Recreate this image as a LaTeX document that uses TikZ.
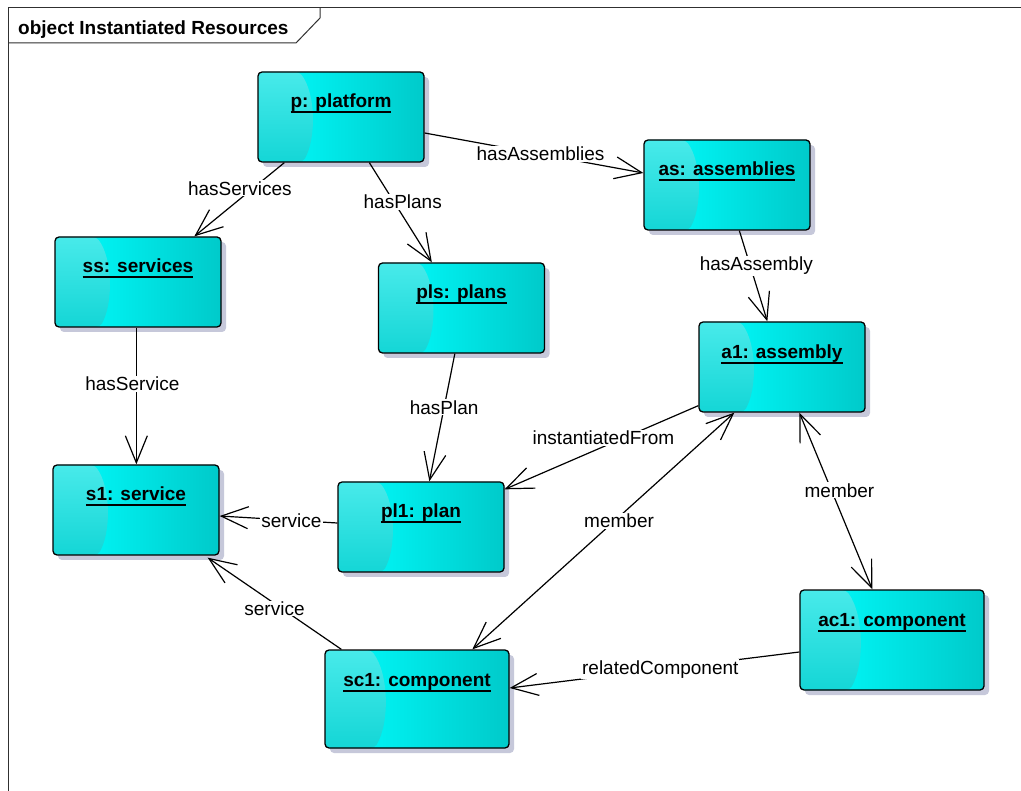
\documentclass[tikz,border=0pt]{standalone}
\usepackage{fontspec}
\setmainfont{Liberation Sans}
\usetikzlibrary{arrows.meta,calc,shadows}
\definecolor{boxdark}{HTML}{00CACA}
\definecolor{boxleftT}{HTML}{48EAEA}
\definecolor{boxleftB}{HTML}{14D6D6}
\definecolor{shadowcol}{HTML}{C6C8DA}
\definecolor{framecol}{HTML}{303030}
\newcommand\objlabel[1]{\setbox0\hbox{\bfseries #1}\rlap{\rule[-5.4pt]{\wd0}{1.4pt}}\box0}
\tikzset{
  obj/.style={draw=black, line width=1.3pt, rounded corners=4pt,
    minimum width=166pt, minimum height=90pt, inner sep=0pt,
    drop shadow={shadow xshift=5pt, shadow yshift=-5pt, fill=shadowcol, opacity=1, draw=none},
    path picture={
      \shade[left color=cyan, middle color=cyan, right color=boxdark]
        let \p1=(path picture bounding box.south west), \p2=(path picture bounding box.north east)
        in (\p1) rectangle (\p2);
      \shade[top color=boxleftT, bottom color=boxleftB]
        let \p1=(path picture bounding box.south west), \p2=(path picture bounding box.north east),
            \n1={\x2-\x1}, \n2={\y2-\y1}
        in (\x1,\y2) -- ({\x1+0.25*\n1},\y2)
           .. controls ({\x1+0.35*\n1},{\y2-0.25*\n2}) and ({\x1+0.35*\n1},{\y1+0.25*\n2}) ..
           ({\x1+0.27*\n1},\y1) -- (\x1,\y1) -- cycle;
    }},
  big/.style={minimum width=184pt, minimum height=100pt},
  objtxt/.style={anchor=base, inner sep=0pt, font=\fontsize{19}{22}\selectfont},
  conn/.style={line width=1.2pt, -{Straight Barb[length=27pt,width=22pt]}},
  both/.style={line width=1.2pt, {Straight Barb[length=27pt,width=22pt]}-{Straight Barb[length=27pt,width=22pt]}},
  lbl/.style={fill=white, inner sep=1pt, font=\fontsize{19}{22}\selectfont}
}
\begin{document}
\begin{tikzpicture}[x=1pt,y=1pt]
\useasboundingbox (0,0) rectangle (1021,-791);
\fill[white] (0,0) rectangle (1021,-791);
% frame
\draw[line width=1pt, framecol] (8,-791) -- (8,-8) -- (1021,-8);
\draw[line width=1pt, framecol] (8,-43) -- (296,-43) -- (320,-18) -- (320,-8);
\node[anchor=base west, inner sep=0pt, font=\fontsize{19}{22}\selectfont\bfseries] (title) at (18,-35) {object Instantiated Resources};
% objects
\node[obj] (p) at (341,-117) {};
\node[obj] (as) at (727,-185) {};
\node[obj] (ss) at (138,-282) {};
\node[obj] (pls) at (461.5,-308) {};
\node[obj] (a1) at (782,-367) {};
\node[obj] (s1) at (136,-510) {};
\node[obj] (pl1) at (421,-527) {};
\node[obj,big] (ac1) at (892,-640) {};
\node[obj,big,minimum height=98pt] (sc1) at (417,-699) {};
\node[objtxt] (tp) at ([yshift=-36pt]p.north) {\objlabel{p: platform}};
\node[objtxt] (tas) at ([yshift=-36pt]as.north) {\objlabel{as: assemblies}};
\node[objtxt] (tss) at ([yshift=-36pt]ss.north) {\objlabel{ss: services}};
\node[objtxt] (tpls) at ([yshift=-36pt]pls.north) {\objlabel{pls: plans}};
\node[objtxt] (ta1) at ([yshift=-37pt]a1.north) {\objlabel{a1: assembly}};
\node[objtxt] (ts1) at ([yshift=-36pt]s1.north) {\objlabel{s1: service}};
\node[objtxt] (tpl1) at ([yshift=-36pt]pl1.north) {\objlabel{pl1: plan}};
\node[objtxt] (tac1) at ([yshift=-37pt]ac1.north) {\objlabel{ac1: component}};
\node[objtxt] (tsc1) at ([yshift=-37pt]sc1.north) {\objlabel{sc1: component}};
% connectors
\draw[conn] ([yshift=-16pt]p.east) -- node[lbl,pos=0.53] (l1) {hasAssemblies} ([yshift=12pt]as.west);
\draw[conn] ([xshift=27pt]p.south west) -- node[lbl,pos=0.35,xshift=-13pt] (l2) {hasServices} ([xshift=140pt]ss.north west);
\draw[conn] ([xshift=112pt]p.south west) -- node[lbl,pos=0.39,xshift=9pt] (l3) {hasPlans} ([xshift=54pt]pls.north west);
\draw[conn] ([xshift=96pt]as.south west) -- node[lbl,pos=0.39,xshift=6pt] (l4) {hasAssembly} ([xshift=69pt]a1.north west);
\draw[conn] ([xshift=82pt]ss.south west) -- node[lbl,pos=0.41,xshift=-4pt] (l5) {hasService} ([xshift=84pt]s1.north west);
\draw[conn] ([xshift=77pt]pls.south west) -- node[lbl,pos=0.42] (l6) {hasPlan} ([xshift=92pt]pl1.north west);
\draw[conn] ([yshift=7pt]a1.south west) -- node[lbl,pos=0.49,yshift=9pt] (l7) {instantiatedFrom} ([yshift=-8pt]pl1.north east);
\draw[conn] ([yshift=4pt]pl1.west) -- node[lbl,pos=0.39] (l8) {service} ([yshift=-6pt]s1.east);
\draw[conn] ([xshift=17pt]sc1.north west) -- node[lbl,pos=0.5,yshift=-5pt] (l9) {service} ([xshift=-12pt,yshift=-2pt]s1.south east);
\draw[both] ([xshift=36pt]a1.south west) -- node[lbl,pos=0.44,yshift=-4pt] (l10) {member} ([xshift=148pt]sc1.north west);
\draw[both] ([xshift=101pt]a1.south west) -- node[lbl,pos=0.44,xshift=8pt] (l11) {member} ([xshift=73pt]ac1.north west);
\draw[conn] ([yshift=-12pt]ac1.west) -- node[lbl,pos=0.48] (l12) {relatedComponent} ([yshift=11pt]sc1.east);
\end{tikzpicture}
\end{document}
